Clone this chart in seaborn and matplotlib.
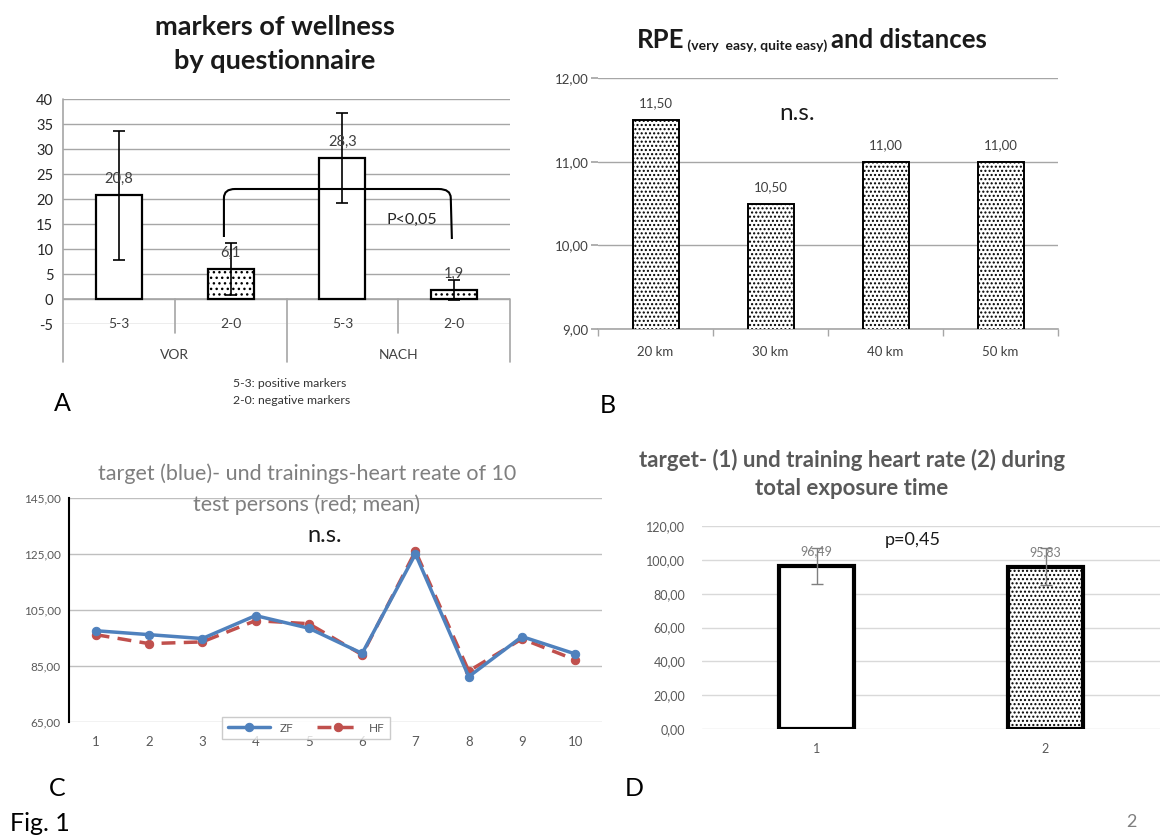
import numpy as np
import pandas as pd
import matplotlib
matplotlib.use('Agg')
import matplotlib.pyplot as plt
from matplotlib.path import Path
from matplotlib.patches import PathPatch
import seaborn as sns

# ---- data ----
# A: wellness markers by questionnaire
a_groups = ['VOR', 'VOR', 'NACH', 'NACH']
a_markers = ['5-3', '2-0', '5-3', '2-0']
a_values = [20.8, 6.1, 28.3, 1.9]
a_errors = [12.9, 5.2, 9.0, 2.0]
a_labels = ['20,8', '6,1', '28,3', '1,9']

# B: RPE and distances
b_distances = ['20 km', '30 km', '40 km', '50 km']
b_rpe = [11.5, 10.5, 11.0, 11.0]
b_labels = ['11,50', '10,50', '11,00', '11,00']

# C: target (ZF) and training (HF) heart rate of 10 persons
c_persons = [1, 2, 3, 4, 5, 6, 7, 8, 9, 10]
c_zf = [97.6, 96.2, 94.8, 103.0, 98.5, 89.5, 125.0, 81.2, 95.5, 89.3]
c_hf = [96.2, 93.0, 93.6, 101.2, 100.1, 89.0, 126.0, 83.2, 94.7, 87.2]

# D: target vs training heart rate, total exposure time
d_cats = ['1', '2']
d_values = [96.49, 95.83]
d_errors = [10.7, 11.0]
d_labels = ['96,49', '95,83']

sns.set_theme(style='white')
plt.rcParams['font.family'] = ['Lato', 'DejaVu Sans']
plt.rcParams['hatch.linewidth'] = 1.0

W, H = 1171, 838
fig = plt.figure(figsize=(W / 100, H / 100), dpi=100)
fig.patch.set_facecolor('white')


def px_axes(x0, y0, x1, y1):
    return fig.add_axes([x0 / W, 1 - y1 / H, (x1 - x0) / W, (y1 - y0) / H])


def fig_text(x, y, s, **kw):
    fig.text(x / W, 1 - y / H, s, **kw)


grid_c = '#a6a6a6'
dark = '#404040'
grey = '#595959'

# ---------------- Panel A ----------------
axA = px_axes(63, 99, 510, 324)
dfA = pd.DataFrame({'slot': [g + ' ' + m for g, m in zip(a_groups, a_markers)],
                    'value': a_values})
sns.barplot(data=dfA, x='slot', y='value', color='white', edgecolor='black',
            linewidth=1.6, width=0.41, errorbar=None, ax=axA, zorder=3)
for i, p in enumerate(axA.patches):
    p.set_facecolor('white')
    if a_markers[i] == '2-0':
        p.set_hatch('...')
axA.errorbar(range(4), a_values, yerr=a_errors, fmt='none', ecolor='black',
             elinewidth=1.2, capsize=4, capthick=1.2, zorder=4)
for i, (v, s) in enumerate(zip(a_values, a_labels)):
    axA.text(i, v + 3.2, s, ha='center', va='center', fontsize=10.5, color=dark, zorder=5)
axA.set_ylim(-5, 40)
axA.set_xlim(-0.5, 3.5)
axA.set_yticks(range(-5, 41, 5))
axA.set_yticklabels([str(t) for t in range(-5, 41, 5)], fontsize=10.5, color='#262626')
axA.yaxis.grid(True, color=grid_c, lw=1)
axA.set_axisbelow(True)
axA.set_xticks([])
axA.set_xlabel('')
axA.set_ylabel('')
for sp in axA.spines.values():
    sp.set_visible(False)
axA.tick_params(axis='y', length=5, color=grid_c, pad=2)
# category axis at zero with group separators
axA.plot([-0.5, 3.5], [0, 0], color=grid_c, lw=1.2, zorder=2)
axA.plot([-0.5, -0.5], [40, -12.6], color=grid_c, lw=1.2, clip_on=False)
for xs, yb in [(0.5, -6.7), (1.5, -12.6), (2.5, -6.7), (3.5, -12.6)]:
    axA.plot([xs, xs], [0, yb], color=grid_c, lw=1.2, clip_on=False)
for i, m in enumerate(a_markers):
    axA.text(i, -5, m, ha='center', va='center', fontsize=10, color=dark)
axA.text(0.5, -11.2, 'VOR', ha='center', va='center', fontsize=10, color=dark)
axA.text(2.5, -11.2, 'NACH', ha='center', va='center', fontsize=10, color=dark)
# bracket with significance
verts = [(0.94, 12.4), (0.94, 20.2), (0.94, 22.0), (1.04, 22.0), (2.86, 22.0),
         (2.97, 22.0), (2.97, 20.2), (2.98, 12.0)]
codes = [Path.MOVETO, Path.LINETO, Path.CURVE3, Path.CURVE3, Path.LINETO,
         Path.CURVE3, Path.CURVE3, Path.LINETO]
axA.add_patch(PathPatch(Path(verts, codes), fill=False, lw=1.5, ec='black', zorder=5))
axA.text(2.62, 15.8, 'P<0,05', ha='center', va='center', fontsize=11.5, color='#262626', zorder=5)

fig_text(275, 27, 'markers of wellness', ha='center', va='center', fontsize=19.5,
         fontweight='bold', color='#1a1a1a')
fig_text(275, 61, 'by questionnaire', ha='center', va='center', fontsize=19.5,
         fontweight='bold', color='#1a1a1a')
fig_text(233, 383, '5-3: positive markers', ha='left', va='center', fontsize=8.8, color='#333333')
fig_text(233, 400, '2-0: negative markers', ha='left', va='center', fontsize=8.8, color='#333333')

# ---------------- Panel B ----------------
axB = px_axes(598, 78, 1058, 329)
dfB = pd.DataFrame({'distance': b_distances, 'rpe': b_rpe})
sns.barplot(data=dfB, x='distance', y='rpe', color='white', edgecolor='black',
            linewidth=1.4, width=0.4, errorbar=None, ax=axB, zorder=3)
for p in axB.patches:
    p.set_facecolor('white')
    p.set_hatch('....')
for i, (v, s) in enumerate(zip(b_rpe, b_labels)):
    axB.text(i, v + 0.2, s, ha='center', va='center', fontsize=9.5, color=dark)
axB.set_ylim(9, 12)
axB.set_xlim(-0.5, 3.5)
axB.set_yticks([9, 10, 11, 12])
axB.set_yticklabels(['9,00', '10,00', '11,00', '12,00'], fontsize=9.5, color=dark)
axB.yaxis.grid(True, color=grid_c, lw=1)
axB.set_axisbelow(True)
axB.set_xlabel('')
axB.set_ylabel('')
for sp in ['top', 'right', 'left']:
    axB.spines[sp].set_visible(False)
axB.spines['bottom'].set_color(grid_c)
axB.spines['bottom'].set_linewidth(1.2)
axB.set_xticks([-0.5, 0.5, 1.5, 2.5, 3.5], minor=True)
axB.tick_params(axis='x', which='minor', length=5, color=grid_c, bottom=True)
axB.tick_params(axis='x', which='major', length=0, pad=12, labelsize=9.5, labelcolor=dark)
axB.tick_params(axis='y', length=5, color=grid_c, left=True, pad=2)
axB.text(1.23, 11.58, 'n.s.', ha='center', va='center', fontsize=17.5, color='#1a1a1a')

t1 = fig.text(637 / W, 1 - 48 / H, 'RPE', ha='left', va='baseline', fontsize=18.5,
              fontweight='bold', color='#1a1a1a')
t2 = axB.annotate(' (very  easy, quite easy) ', xy=(1, 0), xycoords=t1, va='bottom',
                  ha='left', fontsize=10, fontweight='bold', color='#1a1a1a',
                  annotation_clip=False)
axB.annotate('and distances', xy=(1, 0), xycoords=t2, va='bottom', ha='left',
             fontsize=18.5, fontweight='bold', color='#1a1a1a', annotation_clip=False)

# ---------------- Panel C ----------------
axC = px_axes(69, 498, 602, 722)
blue, red = '#4F81BD', '#C0504D'
sns.lineplot(x=c_persons, y=c_zf, color=blue, lw=2.5, marker='o', markersize=6,
             markeredgecolor=blue, label='ZF', ax=axC, zorder=4)
sns.lineplot(x=c_persons, y=c_hf, color=red, lw=2.5, marker='o', markersize=6,
             markeredgecolor=red, label='HF', ax=axC, zorder=3)
axC.lines[1].set_dashes((4, 2.4))
axC.set_ylim(65, 145)
axC.set_xlim(0.5, 10.5)
axC.set_yticks([65, 85, 105, 125, 145])
axC.set_yticklabels(['65,00', '85,00', '105,00', '125,00', '145,00'], fontsize=8.5, color=grey)
axC.set_xticks(c_persons)
axC.set_xticklabels([str(p) for p in c_persons], fontsize=9.5, color=grey)
axC.tick_params(axis='x', length=0, pad=10)
axC.tick_params(axis='y', length=0, pad=6)
axC.yaxis.grid(True, color='#bfbfbf', lw=1)
axC.set_axisbelow(True)
for sp in ['top', 'right', 'bottom']:
    axC.spines[sp].set_visible(False)
axC.spines['left'].set_color('black')
axC.spines['left'].set_linewidth(1.5)
leg = axC.legend(loc='center', bbox_to_anchor=(306 / W, 1 - 728 / H),
                 bbox_transform=fig.transFigure, ncol=2, frameon=True, fancybox=False,
                 edgecolor='#bfbfbf', fontsize=8.5, handlelength=3.6, columnspacing=2.0,
                 borderpad=0.5, labelcolor=grey)
leg.get_frame().set_linewidth(1)
axC.text(5.3, 131.5, 'n.s.', ha='center', va='center', fontsize=17, color='#1a1a1a')
fig_text(307, 474, 'target (blue)- und trainings-heart reate of 10', ha='center',
         va='center', fontsize=15.5, color='#7f7f7f')
fig_text(307, 505, 'test persons (red; mean)', ha='center', va='center', fontsize=15.5,
         color='#7f7f7f')

# ---------------- Panel D ----------------
axD = px_axes(702, 526, 1160, 729)
dfD = pd.DataFrame({'cat': d_cats, 'value': d_values})
sns.barplot(data=dfD, x='cat', y='value', color='white', edgecolor='black',
            linewidth=3, width=0.33, errorbar=None, ax=axD, zorder=3)
for i, p in enumerate(axD.patches):
    p.set_facecolor('white')
    if i == 1:
        p.set_hatch('....')
axD.errorbar(range(2), d_values, yerr=d_errors, fmt='none', ecolor='#7f7f7f',
             elinewidth=1, capsize=4, capthick=1, zorder=4)
for i, (v, s) in enumerate(zip(d_values, d_labels)):
    axD.text(i, v + 8.8, s, ha='center', va='center', fontsize=9, color='#7f7f7f', zorder=5)
axD.set_ylim(0, 120)
axD.set_xlim(-0.5, 1.5)
axD.set_yticks(range(0, 121, 20))
axD.set_yticklabels(['0,00', '20,00', '40,00', '60,00', '80,00', '100,00', '120,00'],
                    fontsize=9, color=grey)
axD.yaxis.grid(True, color='#d9d9d9', lw=1)
axD.set_axisbelow(True)
axD.set_xlabel('')
axD.set_ylabel('')
for sp in axD.spines.values():
    sp.set_visible(False)
axD.tick_params(axis='x', length=0, pad=10, labelsize=9, labelcolor=grey)
axD.tick_params(axis='y', length=0, pad=12)
axD.text(0.42, 112, 'p=0,45', ha='center', va='center', fontsize=13, color='#1a1a1a')
fig_text(852, 460, 'target- (1) und training heart rate (2) during', ha='center',
         va='center', fontsize=16, fontweight='bold', color=grey)
fig_text(852, 488, 'total exposure time', ha='center', va='center', fontsize=16,
         fontweight='bold', color=grey)

# ---------------- panel letters ----------------
fig_text(62, 403, 'A', ha='center', va='center', fontsize=18, color='black')
fig_text(608, 405, 'B', ha='center', va='center', fontsize=18, color='black')
fig_text(57, 788, 'C', ha='center', va='center', fontsize=18, color='black')
fig_text(634, 788, 'D', ha='center', va='center', fontsize=18, color='black')
fig_text(10, 823, 'Fig. 1', ha='left', va='center', fontsize=18, color='black')
fig_text(1131, 822, '2', ha='center', va='center', fontsize=13, color='#7f7f7f')

fig.savefig('out.png', dpi=100, facecolor='white')
